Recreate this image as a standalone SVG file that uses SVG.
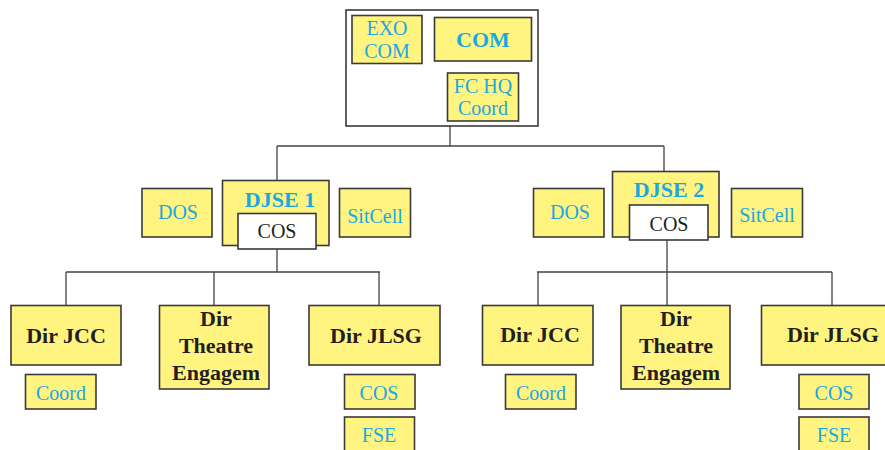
<svg xmlns="http://www.w3.org/2000/svg" width="885" height="450" viewBox="0 0 885 450">
  <style>
    .box { fill: #fff480; stroke: #3a3a3a; stroke-width: 1.6; }
    .frame { fill: #ffffff; stroke: #3a3a3a; stroke-width: 1.6; }
    .wire { fill: none; stroke: #444444; stroke-width: 1.3; }
    .blue { fill: #1aa7e2; font-size: 20px; }
    .blueb { fill: #1aa7e2; font-size: 22px; font-weight: bold; }
    .dark { fill: #231f20; font-size: 20px; }
    .darkb { fill: #231f20; font-size: 22px; font-weight: bold; }
  </style>
  <rect width="885" height="450" fill="#ffffff"/>

  <!-- connectors -->
  <g id="connectors">
    <path class="wire" d="M450 126 V146 M277 146 H664 M277 146 V180 M664 146 V171"/>
    <path class="wire" d="M277 249 V272 M66 272 H380 M66 272 V305 M214 272 V305 M379 272 V305"/>
    <path class="wire" d="M667 240 V272 M537 272 H832 M538 272 V305 M667 272 V305 M832 272 V305"/>
  </g>

  <g font-family="Liberation Serif" text-anchor="middle">
    <!-- command group -->
    <g id="hq">
      <rect class="frame" x="346" y="10" width="192" height="116"/>
    </g>
    <g id="exocom">
      <rect class="box" x="352" y="15.5" width="70" height="48"/>
      <text class="blue" x="387" y="35">EXO</text>
      <text class="blue" x="387" y="58">COM</text>
    </g>
    <g id="com">
      <rect class="box" x="434.5" y="17.5" width="97" height="43.5"/>
      <text class="blueb" x="483" y="47">COM</text>
    </g>
    <g id="fchq">
      <rect class="box" x="447.5" y="73" width="71" height="48"/>
      <text class="blue" x="483" y="93">FC HQ</text>
      <text class="blue" x="483" y="115">Coord</text>
    </g>

    <!-- DJSE 1 -->
    <g id="dos1">
      <rect class="box" x="142" y="188.5" width="70" height="48.5"/>
      <text class="blue" x="178" y="219">DOS</text>
    </g>
    <g id="djse1">
      <rect class="box" x="222.5" y="180.5" width="106.5" height="65"/>
      <text class="blueb" x="280" y="207">DJSE 1</text>
      <rect class="frame" x="238" y="213.5" width="78" height="35.5"/>
      <text class="dark" x="277" y="238">COS</text>
    </g>
    <g id="sitcell1">
      <rect class="box" x="339.5" y="188.5" width="71" height="48.5"/>
      <text class="blue" x="375" y="223">SitCell</text>
    </g>

    <!-- DJSE 2 -->
    <g id="dos2">
      <rect class="box" x="533.5" y="188.5" width="70.5" height="48.5"/>
      <text class="blue" x="570" y="219">DOS</text>
    </g>
    <g id="djse2">
      <rect class="box" x="612.5" y="171.5" width="106.5" height="65.5"/>
      <text class="blueb" x="669" y="197">DJSE 2</text>
      <rect class="frame" x="629.5" y="205" width="78.5" height="35"/>
      <text class="dark" x="669" y="231">COS</text>
    </g>
    <g id="sitcell2">
      <rect class="box" x="731.5" y="188.5" width="71" height="48.5"/>
      <text class="blue" x="767" y="222">SitCell</text>
    </g>

    <!-- directorates under DJSE 1 -->
    <g id="jcc1">
      <rect class="box" x="11" y="305.5" width="110" height="59.5"/>
      <text class="darkb" x="66" y="343">Dir JCC</text>
    </g>
    <g id="coord1">
      <rect class="box" x="25.5" y="374.5" width="70.5" height="34.5"/>
      <text class="blue" x="61" y="400">Coord</text>
    </g>
    <g id="theatre1">
      <rect class="box" x="159.5" y="305.5" width="109.5" height="83.5"/>
      <text class="darkb" x="216" y="326">Dir</text>
      <text class="darkb" x="216" y="353">Theatre</text>
      <text class="darkb" x="216" y="380">Engagem</text>
    </g>
    <g id="jlsg1">
      <rect class="box" x="309" y="305.5" width="131" height="59.5"/>
      <text class="darkb" x="376" y="343">Dir JLSG</text>
    </g>
    <g id="cos1">
      <rect class="box" x="344.5" y="374.5" width="70.5" height="34.5"/>
      <text class="blue" x="379" y="400">COS</text>
    </g>
    <g id="fse1">
      <rect class="box" x="344.5" y="417" width="70" height="40"/>
      <text class="blue" x="379" y="442">FSE</text>
    </g>

    <!-- directorates under DJSE 2 -->
    <g id="jcc2">
      <rect class="box" x="482.5" y="305.5" width="110.5" height="59.5"/>
      <text class="darkb" x="540" y="342">Dir JCC</text>
    </g>
    <g id="coord2">
      <rect class="box" x="505.5" y="374.5" width="70.5" height="34.5"/>
      <text class="blue" x="541" y="400">Coord</text>
    </g>
    <g id="theatre2">
      <rect class="box" x="621" y="305.5" width="109" height="83.5"/>
      <text class="darkb" x="676" y="326">Dir</text>
      <text class="darkb" x="676" y="353">Theatre</text>
      <text class="darkb" x="676" y="380">Engagem</text>
    </g>
    <g id="jlsg2">
      <rect class="box" x="761.5" y="305.5" width="130" height="59.5"/>
      <text class="darkb" x="833" y="342">Dir JLSG</text>
    </g>
    <g id="cos2">
      <rect class="box" x="799" y="374.5" width="70" height="34.5"/>
      <text class="blue" x="834" y="400">COS</text>
    </g>
    <g id="fse2">
      <rect class="box" x="799" y="417" width="70" height="40"/>
      <text class="blue" x="834" y="442">FSE</text>
    </g>
  </g>
</svg>
